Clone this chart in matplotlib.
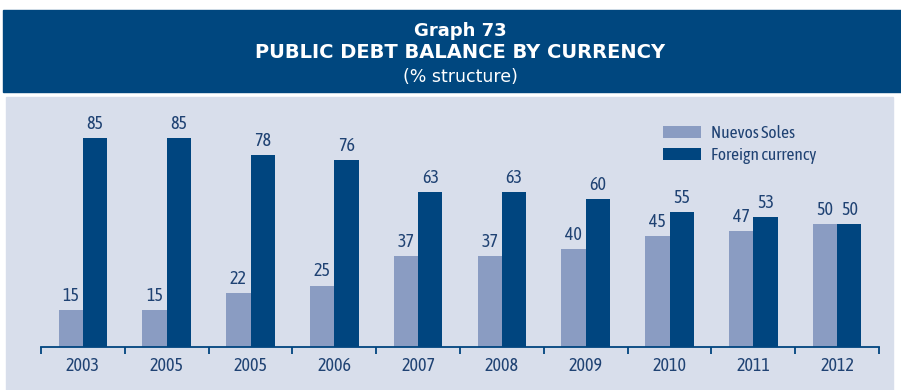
import matplotlib.pyplot as plt
from matplotlib.patches import Rectangle
import numpy as np

years = ["2003", "2005", "2005", "2006", "2007", "2008", "2009", "2010", "2011", "2012"]
soles = [15, 15, 22, 25, 37, 37, 40, 45, 47, 50]
foreign = [85, 85, 78, 76, 63, 63, 60, 55, 53, 50]

LIGHT = "#8a9cc2"
DARK = "#00457f"
PANEL = "#d8deeb"
TEXT = "#1f4273"
FONT = ["Asap Condensed", "Liberation Sans Narrow", "DejaVu Sans"]
HEAD_FONT = ["DejaVu Sans"]

plt.rcParams["font.family"] = FONT

fig = plt.figure(figsize=(9.01, 3.90), dpi=100)
W, H = 901, 390

# background layer: header band and chart panel (pixel coordinates)
bg = fig.add_axes([0, 0, 1, 1], zorder=-10)
bg.set_xlim(0, W)
bg.set_ylim(H, 0)
bg.axis("off")
bg.add_patch(Rectangle((3, 10), 898, 82, color="#00477f"))
bg.add_patch(Rectangle((6, 97), 887, H - 97, color=PANEL))

HX = 460
bg.text(HX, 36, "Graph 73", ha="center", va="baseline", color="white",
        fontsize=13, fontweight="bold", family=HEAD_FONT)
bg.text(HX, 58.5, "PUBLIC DEBT BALANCE BY CURRENCY", ha="center", va="baseline",
        color="white", fontsize=14, fontweight="bold", family=HEAD_FONT)
bg.text(HX, 82.5, "(% structure)", ha="center", va="baseline", color="white",
        fontsize=12.5, family=HEAD_FONT)

ax = fig.add_axes([41 / W, 1 - 347 / H, 838 / W, (347 - 101) / H], zorder=1)
ax.patch.set_alpha(0)

x = np.arange(len(years))
bw = 0.29
b1 = ax.bar(x - bw / 2, soles, bw, color=LIGHT, label="Nuevos Soles")
b2 = ax.bar(x + bw / 2, foreign, bw, color=DARK, label="Foreign currency")

for bars, vals in ((b1, soles), (b2, foreign)):
    for rect, v in zip(bars, vals):
        ax.annotate(str(v), (rect.get_x() + rect.get_width() / 2, v), xytext=(0, 6.5),
                    textcoords="offset points", ha="center", va="baseline",
                    color=TEXT, fontsize=13)

ax.set_xlim(-0.5, len(years) - 0.5)
ax.set_ylim(0, 100)
ax.set_yticks([])
for s in ["top", "right", "left"]:
    ax.spines[s].set_visible(False)
ax.spines["bottom"].set_color(DARK)
ax.spines["bottom"].set_linewidth(1.3)

ax.set_xticks(np.arange(len(years) + 1) - 0.5)
ax.set_xticklabels([])
ax.tick_params(axis="x", length=5, width=1.3, color=DARK, direction="out")
for xi, yr in zip(x, years):
    ax.text(xi, -0.042, yr, transform=ax.get_xaxis_transform(), ha="center",
            va="top", color=TEXT, fontsize=13)

ax.legend(loc="upper left", bbox_to_anchor=(656 / W, 1 - 118 / H),
          bbox_transform=fig.transFigure, frameon=False, fontsize=12.5,
          labelcolor=TEXT, handlelength=2.2, handleheight=0.75,
          handletextpad=0.55, labelspacing=0.3, borderaxespad=0)

fig.savefig("out.png", dpi=100)
